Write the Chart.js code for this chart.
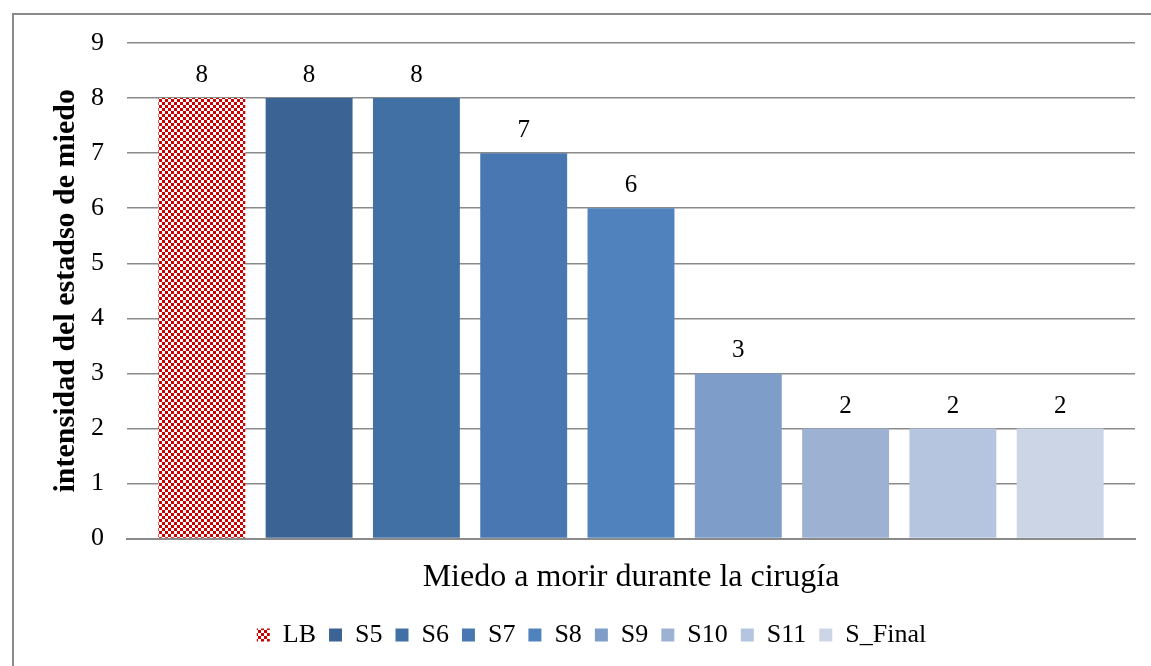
<!DOCTYPE html>
<html>
<head>
<meta charset="utf-8">
<script src="https://cdn.jsdelivr.net/npm/chart.js@4/dist/chart.umd.min.js"></script>
<style>
  html, body { margin: 0; padding: 0; background: #ffffff; }
  #wrap { position: relative; width: 1151px; height: 666px; }
</style>
</head>
<body>
<div id="wrap"><canvas id="c" width="1151" height="666"></canvas></div>
<script>
// Single category, one bar per session
const categories = ['Miedo a morir durante la cirugía'];
const seriesNames = ['LB', 'S5', 'S6', 'S7', 'S8', 'S9', 'S10', 'S11', 'S_Final'];
const seriesValues = [8, 8, 8, 7, 6, 3, 2, 2, 2];
const seriesColors = ['#cc0000', '#3b6393', '#4170a4', '#4877b1', '#5083be', '#7f9dc9', '#9db1d3', '#b5c4df', '#cbd5e6'];
const yTicks = [0, 1, 2, 3, 4, 5, 6, 7, 8, 9];

const SERIF = '"Liberation Serif", "DejaVu Serif", serif';

// Red/white small checkerboard fill for the baseline bar
function checkerPattern(color) {
  const p = document.createElement('canvas');
  p.width = 6; p.height = 6;
  const g = p.getContext('2d');
  g.fillStyle = '#ffffff';
  g.fillRect(0, 0, 6, 6);
  g.fillStyle = color;
  g.fillRect(0, 0, 3, 3);
  g.fillRect(3, 3, 3, 3);
  return g.createPattern(p, 'repeat');
}

const ctx = document.getElementById('c').getContext('2d');

const datasets = seriesNames.map((name, i) => ({
  label: name,
  data: [seriesValues[i]],
  backgroundColor: i === 0 ? checkerPattern(seriesColors[0]) : seriesColors[i],
  borderWidth: 0,
  barPercentage: 0.81,
  categoryPercentage: 0.958
}));

// Value labels above bars
const valueLabels = {
  id: 'valueLabels',
  afterDatasetsDraw(chart) {
    const c = chart.ctx;
    c.save();
    c.font = '25px ' + SERIF;
    c.fillStyle = '#000000';
    c.textAlign = 'center';
    c.textBaseline = 'bottom';
    chart.data.datasets.forEach((ds, i) => {
      const meta = chart.getDatasetMeta(i);
      meta.data.forEach((bar, j) => {
        c.fillText(String(ds.data[j]), bar.x, bar.y - 10);
      });
    });
    c.restore();
  }
};

// Frame around the chart
const frame = {
  id: 'frame',
  beforeDraw(chart) {
    const c = chart.ctx;
    c.save();
    c.strokeStyle = '#8a8a8a';
    c.lineWidth = 2;
    c.strokeRect(13, 14, 1200, 800);
    c.restore();
  }
};

new Chart(ctx, {
  type: 'bar',
  data: { labels: categories, datasets },
  plugins: [frame, valueLabels],
  options: {
    responsive: false,
    animation: false,
    devicePixelRatio: 1,
    layout: { padding: { top: 43, right: 16, left: 48, bottom: 8 } },
    plugins: {
      tooltip: { enabled: false },
      legend: {
        position: 'bottom',
        labels: {
          font: { family: SERIF, size: 26 },
          color: '#000000',
          boxWidth: 13,
          boxHeight: 13,
          padding: 13
        }
      }
    },
    scales: {
      x: {
        grid: { display: false },
        border: { color: '#8a8a8a', width: 2 },
        ticks: {
          font: { family: SERIF, size: 32 },
          color: '#000000',
          padding: 12
        }
      },
      y: {
        min: 0,
        max: 9,
        afterBuildTicks(axis) { axis.ticks = yTicks.map(v => ({ value: v })); },
        afterFit(axis) { axis.width = 79; },
        grid: { color: '#8a8a8a', lineWidth: 1.5, drawTicks: false },
        border: { display: false },
        ticks: {
          font: { family: SERIF, size: 26 },
          color: '#000000',
          padding: 23
        },
        title: {
          display: true,
          text: 'intensidad del estadso de miedo',
          font: { family: SERIF, size: 30, weight: 'bold' },
          color: '#000000',
          padding: { top: 0, bottom: 2 }
        }
      }
    }
  }
});
</script>
</body>
</html>
